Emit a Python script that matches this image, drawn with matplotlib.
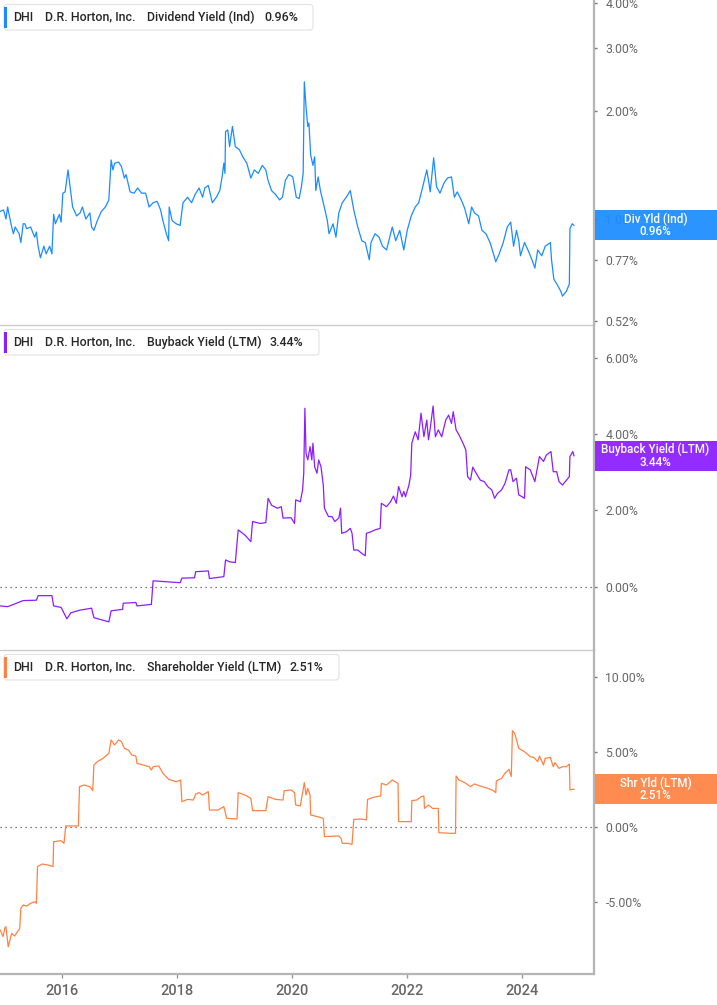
import matplotlib
matplotlib.use("Agg")
import matplotlib.pyplot as plt
from matplotlib.patches import Rectangle, FancyBboxPatch
from matplotlib.ticker import FixedLocator, FuncFormatter, NullLocator

# --- data (decimal year, % values) ---
div_years = [
    2014.93, 2014.99, 2015.03, 2015.06, 2015.09, 2015.13, 2015.16, 2015.19, 2015.26, 2015.29,
    2015.33, 2015.36, 2015.39, 2015.46, 2015.53, 2015.56, 2015.59, 2015.63, 2015.69, 2015.73,
    2015.79, 2015.83, 2015.86, 2015.89, 2015.96, 2015.99, 2016.02, 2016.06, 2016.11, 2016.16,
    2016.19, 2016.26, 2016.32, 2016.36, 2016.42, 2016.49, 2016.52, 2016.56, 2016.62, 2016.69,
    2016.76, 2016.82, 2016.86, 2016.89, 2016.92, 2016.99, 2017.04, 2017.09, 2017.12, 2017.19,
    2017.26, 2017.32, 2017.39, 2017.46, 2017.52, 2017.59, 2017.66, 2017.72, 2017.76, 2017.82,
    2017.86, 2017.87, 2017.92, 2017.99, 2018.06, 2018.11, 2018.19, 2018.26, 2018.32, 2018.39,
    2018.45, 2018.49, 2018.55, 2018.62, 2018.69, 2018.75, 2018.79, 2018.82, 2018.84, 2018.85,
    2018.89, 2018.92, 2018.97, 2019.02, 2019.09, 2019.15, 2019.22, 2019.29, 2019.35, 2019.42,
    2019.49, 2019.55, 2019.59, 2019.65, 2019.72, 2019.79, 2019.84, 2019.89, 2019.95, 2020.02,
    2020.08, 2020.13, 2020.17, 2020.20, 2020.22, 2020.25, 2020.28, 2020.30, 2020.33, 2020.37,
    2020.40, 2020.42, 2020.46, 2020.50, 2020.55, 2020.62, 2020.65, 2020.72, 2020.77, 2020.82,
    2020.88, 2020.95, 2021.02, 2021.08, 2021.15, 2021.22, 2021.28, 2021.35, 2021.38, 2021.45,
    2021.52, 2021.58, 2021.65, 2021.75, 2021.81, 2021.88, 2021.95, 2022.01, 2022.08, 2022.15,
    2022.21, 2022.28, 2022.35, 2022.38, 2022.41, 2022.47, 2022.52, 2022.58, 2022.65, 2022.71,
    2022.78, 2022.83, 2022.88, 2022.95, 2023.01, 2023.08, 2023.13, 2023.18, 2023.25, 2023.31,
    2023.38, 2023.45, 2023.51, 2023.55, 2023.61, 2023.68, 2023.75, 2023.81, 2023.86, 2023.91,
    2023.95, 2023.98, 2024.05, 2024.11, 2024.18, 2024.23, 2024.28, 2024.35, 2024.41, 2024.50,
    2024.52, 2024.56, 2024.61, 2024.68, 2024.71, 2024.78, 2024.83, 2024.84, 2024.88, 2024.91,
]
div_yield = [
    1.05, 1.06, 1.00, 1.08, 1.02, 0.95, 0.91, 0.95, 0.91, 0.86,
    0.97, 0.97, 0.94, 0.95, 0.89, 0.92, 0.84, 0.78, 0.84, 0.80,
    0.84, 0.80, 1.03, 0.97, 1.03, 0.98, 1.18, 1.19, 1.37, 1.18,
    1.08, 1.02, 1.04, 1.08, 1.00, 1.04, 0.95, 0.93, 0.99, 1.05,
    1.08, 1.13, 1.46, 1.37, 1.43, 1.44, 1.40, 1.30, 1.33, 1.19,
    1.18, 1.22, 1.18, 1.18, 1.08, 1.11, 1.12, 1.06, 0.99, 0.91,
    0.87, 1.08, 0.99, 0.97, 0.96, 1.11, 1.15, 1.11, 1.17, 1.22,
    1.15, 1.22, 1.24, 1.11, 1.15, 1.20, 1.31, 1.43, 1.34, 1.75,
    1.77, 1.59, 1.81, 1.59, 1.56, 1.49, 1.43, 1.30, 1.37, 1.34,
    1.41, 1.37, 1.28, 1.20, 1.17, 1.13, 1.15, 1.28, 1.33, 1.31,
    1.15, 1.14, 1.23, 1.34, 2.41, 2.05, 1.81, 1.85, 1.51, 1.41,
    1.49, 1.20, 1.31, 1.20, 1.11, 0.99, 0.91, 0.97, 0.89, 1.04,
    1.11, 1.15, 1.20, 1.06, 0.95, 0.87, 0.86, 0.77, 0.86, 0.91,
    0.89, 0.84, 0.82, 0.95, 0.87, 0.93, 0.82, 0.93, 1.02, 1.08,
    1.11, 1.23, 1.37, 1.28, 1.19, 1.48, 1.23, 1.18, 1.26, 1.30,
    1.31, 1.15, 1.19, 1.13, 1.07, 0.97, 1.08, 1.04, 1.02, 0.93,
    0.91, 0.86, 0.80, 0.76, 0.80, 0.86, 0.95, 0.98, 0.84, 0.93,
    0.87, 0.79, 0.86, 0.82, 0.77, 0.73, 0.82, 0.79, 0.84, 0.86,
    0.77, 0.68, 0.66, 0.63, 0.61, 0.63, 0.66, 0.94, 0.97, 0.96,
]

bb_years = [
    2014.93, 2015.06, 2015.13, 2015.33, 2015.56, 2015.59, 2015.83, 2015.86, 2015.99, 2016.09,
    2016.16, 2016.32, 2016.52, 2016.56, 2016.82, 2016.86, 2017.06, 2017.07, 2017.29, 2017.31,
    2017.56, 2017.59, 2018.06, 2018.09, 2018.31, 2018.33, 2018.55, 2018.57, 2018.82, 2018.85,
    2018.92, 2019.02, 2019.07, 2019.19, 2019.29, 2019.32, 2019.45, 2019.55, 2019.59, 2019.65,
    2019.75, 2019.82, 2019.85, 2019.99, 2020.05, 2020.07, 2020.15, 2020.19, 2020.21, 2020.23,
    2020.25, 2020.28, 2020.32, 2020.35, 2020.37, 2020.40, 2020.44, 2020.47, 2020.51, 2020.55,
    2020.57, 2020.64, 2020.70, 2020.75, 2020.82, 2020.85, 2020.87, 2020.95, 2021.02, 2021.05,
    2021.08, 2021.15, 2021.22, 2021.28, 2021.30, 2021.38, 2021.45, 2021.54, 2021.56, 2021.65,
    2021.72, 2021.77, 2021.82, 2021.86, 2021.92, 2021.95, 2021.98, 2022.04, 2022.07, 2022.09,
    2022.15, 2022.20, 2022.25, 2022.30, 2022.35, 2022.38, 2022.41, 2022.46, 2022.50, 2022.55,
    2022.61, 2022.68, 2022.73, 2022.78, 2022.81, 2022.86, 2022.91, 2022.98, 2023.03, 2023.06,
    2023.11, 2023.15, 2023.21, 2023.28, 2023.35, 2023.41, 2023.48, 2023.53, 2023.58, 2023.65,
    2023.71, 2023.78, 2023.81, 2023.85, 2023.91, 2023.95, 2024.01, 2024.05, 2024.07, 2024.15,
    2024.23, 2024.31, 2024.38, 2024.43, 2024.51, 2024.55, 2024.61, 2024.65, 2024.71, 2024.78,
    2024.83, 2024.84, 2024.89, 2024.91,
]
bb_yield = [
    -0.51, -0.53, -0.49, -0.37, -0.36, -0.24, -0.24, -0.51, -0.55, -0.85,
    -0.69, -0.62, -0.57, -0.82, -0.93, -0.64, -0.60, -0.44, -0.42, -0.51,
    -0.47, 0.15, 0.10, 0.22, 0.23, 0.39, 0.41, 0.21, 0.26, 0.70,
    0.65, 0.63, 1.49, 1.35, 1.18, 1.71, 1.66, 1.68, 2.32, 2.14,
    2.06, 2.10, 1.80, 1.81, 1.66, 2.28, 2.23, 2.54, 2.98, 4.69,
    3.50, 3.33, 3.68, 3.33, 3.77, 3.15, 2.98, 3.33, 3.15, 2.67,
    2.06, 1.84, 1.84, 1.71, 1.80, 2.06, 1.40, 1.44, 1.53, 1.40,
    0.96, 0.96, 0.87, 0.81, 1.40, 1.44, 1.49, 1.53, 2.19, 2.10,
    2.23, 2.38, 2.19, 2.63, 2.36, 2.50, 2.36, 2.67, 2.93, 3.77,
    4.07, 3.86, 4.56, 3.94, 4.38, 3.86, 4.16, 4.75, 3.94, 4.12,
    3.94, 4.38, 4.51, 4.29, 4.60, 4.12, 3.99, 3.77, 3.59, 2.89,
    2.80, 3.14, 2.98, 2.80, 2.76, 2.63, 2.54, 2.32, 2.45, 2.54,
    2.71, 3.07, 3.07, 2.76, 2.85, 2.41, 2.36, 2.32, 3.15, 3.07,
    2.76, 3.42, 3.29, 3.46, 3.55, 3.02, 3.02, 2.76, 2.67, 2.80,
    2.89, 3.42, 3.55, 3.44,
]

sh_years = [
    2014.93, 2014.98, 2015.01, 2015.03, 2015.07, 2015.13, 2015.18, 2015.23, 2015.27, 2015.29,
    2015.33, 2015.39, 2015.46, 2015.54, 2015.56, 2015.58, 2015.66, 2015.76, 2015.85, 2015.86,
    2015.99, 2016.04, 2016.07, 2016.29, 2016.31, 2016.39, 2016.49, 2016.54, 2016.56, 2016.62,
    2016.72, 2016.82, 2016.86, 2016.92, 2016.99, 2017.04, 2017.09, 2017.16, 2017.22, 2017.29,
    2017.31, 2017.42, 2017.52, 2017.56, 2017.59, 2017.69, 2017.76, 2017.86, 2017.99, 2018.07,
    2018.09, 2018.19, 2018.29, 2018.33, 2018.39, 2018.45, 2018.55, 2018.57, 2018.72, 2018.82,
    2018.87, 2019.05, 2019.07, 2019.19, 2019.29, 2019.32, 2019.55, 2019.59, 2019.72, 2019.85,
    2019.87, 2019.99, 2020.05, 2020.07, 2020.15, 2020.22, 2020.25, 2020.28, 2020.32, 2020.33,
    2020.45, 2020.55, 2020.57, 2020.82, 2020.86, 2020.88, 2020.98, 2021.05, 2021.08, 2021.22,
    2021.30, 2021.32, 2021.42, 2021.55, 2021.56, 2021.65, 2021.75, 2021.85, 2021.86, 2022.08,
    2022.09, 2022.18, 2022.25, 2022.30, 2022.31, 2022.38, 2022.45, 2022.55, 2022.56, 2022.75,
    2022.85, 2022.86, 2022.91, 2023.01, 2023.11, 2023.18, 2023.31, 2023.41, 2023.51, 2023.55,
    2023.56, 2023.65, 2023.71, 2023.78, 2023.82, 2023.84, 2023.88, 2023.91, 2023.95, 2024.05,
    2024.15, 2024.21, 2024.28, 2024.31, 2024.38, 2024.41, 2024.50, 2024.55, 2024.58, 2024.65,
    2024.71, 2024.78, 2024.81, 2024.83, 2024.84, 2024.88, 2024.91,
]
sh_yield = [
    -6.87, -7.31, -6.76, -6.64, -7.98, -7.09, -7.27, -6.98, -6.76, -5.42,
    -5.20, -5.27, -5.09, -4.98, -5.09, -2.64, -2.47, -2.53, -2.64, -0.98,
    -0.91, -1.09, 0.07, 0.07, 2.69, 2.80, 2.69, 2.42, 4.13, 4.36,
    4.58, 4.91, 5.80, 5.47, 5.80, 5.69, 5.24, 5.13, 4.80, 4.73,
    4.24, 4.13, 4.02, 3.80, 4.02, 4.07, 3.58, 3.18, 3.02, 3.13,
    1.69, 1.84, 1.80, 2.20, 2.29, 2.13, 2.36, 1.13, 1.13, 1.36,
    0.58, 0.53, 2.29, 2.13, 1.91, 1.09, 1.09, 2.02, 1.84, 1.80,
    2.42, 2.47, 2.29, 1.47, 1.40, 2.96, 2.13, 2.58, 2.13, 0.80,
    0.69, 0.58, -0.64, -0.60, -0.76, -1.09, -1.09, -1.16, 0.51, 0.53,
    0.47, 1.84, 1.98, 2.07, 2.91, 2.80, 3.13, 2.91, 0.36, 0.36,
    1.76, 1.80, 2.02, 2.07, 1.24, 1.47, 1.24, 1.24, -0.38, -0.42,
    -0.42, 3.40, 3.13, 2.96, 2.69, 2.87, 2.69, 2.58, 2.42, 2.29,
    3.07, 3.24, 3.58, 3.84, 3.36, 6.42, 6.24, 5.80, 5.24, 5.02,
    4.69, 4.64, 4.36, 4.73, 4.13, 4.58, 4.64, 4.02, 4.29, 3.91,
    4.02, 4.02, 4.13, 4.20, 2.47, 2.51, 2.51,
]

x_ticks = [2016, 2018, 2020, 2022, 2024]

W, H = 717, 1005
BLUE = "#1b8cff"
PURPLE = "#8b1dff"
ORANGE = "#ff8244"
SPINE = "#b5b5b5"

plt.rcParams["font.family"] = ["Roboto", "DejaVu Sans"]
fig = plt.figure(figsize=(W / 100, H / 100), dpi=100)

panels = [
    dict(years=div_years, vals=div_yield, color=BLUE, top=0, bottom=325, log=True,
         ylim=(0.507, 4.07), ticks=[0.52, 0.77, 1.0, 2.0, 3.0, 4.0],
         metric="Dividend Yield (Ind)", short="Div Yld (Ind)", box_w=309, val_x=264),
    dict(years=bb_years, vals=bb_yield, color=PURPLE, top=325, bottom=650, log=False,
         ylim=(-1.67, 6.88), ticks=[0, 2, 4, 6],
         metric="Buyback Yield (LTM)", short="Buyback Yield (LTM)", box_w=315, val_x=269),
    dict(years=sh_years, vals=sh_yield, color=ORANGE, top=650, bottom=974, log=False,
         ylim=(-9.8, 11.8), ticks=[-5, 0, 5, 10],
         metric="Shareholder Yield (LTM)", short="Shr Yld (LTM)", box_w=335, val_x=290),
]

plot_w = 593.5
axes = []
for i, p in enumerate(panels):
    ax = fig.add_axes([0, 1 - p["bottom"] / H, plot_w / W, (p["bottom"] - p["top"]) / H])
    ax.plot(p["years"], p["vals"], color=p["color"], lw=0.9)
    ax.set_xlim(2014.927, 2025.25)
    if p["log"]:
        ax.set_yscale("log")
    ax.set_ylim(*p["ylim"])
    ax.yaxis.set_major_locator(FixedLocator(p["ticks"]))
    ax.yaxis.set_minor_locator(NullLocator())
    ax.yaxis.set_major_formatter(FuncFormatter(lambda v, _: f"{v:.2f}%"))
    ax.yaxis.tick_right()
    ax.tick_params(axis="y", direction="out", length=2.5, width=1, color="#777777",
                   labelsize=8.8, labelcolor="#666666", pad=6)
    for s in ["top", "left"]:
        ax.spines[s].set_visible(False)
    ax.spines["right"].set_color(SPINE)
    ax.spines["right"].set_linewidth(1.6)
    if not p["log"]:
        ax.axhline(0, color="#555555", lw=0.9, ls=(0, (1, 3)), zorder=1)
    if i < 2:
        ax.spines["bottom"].set_color("#cccccc")
        ax.spines["bottom"].set_linewidth(1.0)
        ax.set_xticks([])
    else:
        ax.spines["bottom"].set_color(SPINE)
        ax.spines["bottom"].set_linewidth(1.6)
        ax.set_xticks(x_ticks)
        ax.set_xticklabels([str(t) for t in x_ticks], fontsize=10.5, color="#666666",
                           fontweight="medium")
        ax.tick_params(axis="x", direction="out", length=3, width=1, color="#999999", pad=4)
    ax.set_facecolor("none")
    axes.append(ax)

# overlay in pixel coords for the legend chips and value flags
ov = fig.add_axes([0, 0, 1, 1], zorder=10)
ov.set_xlim(0, W)
ov.set_ylim(H, 0)
ov.axis("off")

for ax, p in zip(axes, panels):
    top = p["top"] + 4.5
    cy = top + 12.5
    ov.add_patch(FancyBboxPatch((4, top), p["box_w"], 25.5,
                                boxstyle="round,pad=0,rounding_size=3",
                                fc="white", ec="#e2e2e2", lw=0.8))
    ov.add_patch(Rectangle((4, top + 2.5), 3, 21, color=p["color"], lw=0))
    kw = dict(va="center", ha="left", fontsize=8.9, color="#262626", fontweight="medium")
    last = p["vals"][-1]
    ov.text(13, cy, "DHI", **kw)
    ov.text(45, cy, "D.R. Horton, Inc.", **kw)
    ov.text(147, cy, p["metric"], **kw)
    ov.text(p["val_x"], cy, f"{last:.2f}%", **kw)

    # value flag on the right, positioned from the axis scale
    y_disp = ax.transData.transform((p["years"][-1], last))[1]
    y_pix = H - y_disp
    ov.add_patch(Rectangle((594.5, y_pix - 15), W - 594.5, 30, color=p["color"],
                           alpha=0.93, lw=0))
    ov.text(655.5, y_pix - 6, p["short"], ha="center", va="center", fontsize=8.4,
            color="white", fontweight="medium")
    ov.text(655.5, y_pix + 6.5, f"{last:.2f}%", ha="center", va="center", fontsize=8.4,
            color="white", fontweight="medium")

fig.savefig("out.png", dpi=100)
